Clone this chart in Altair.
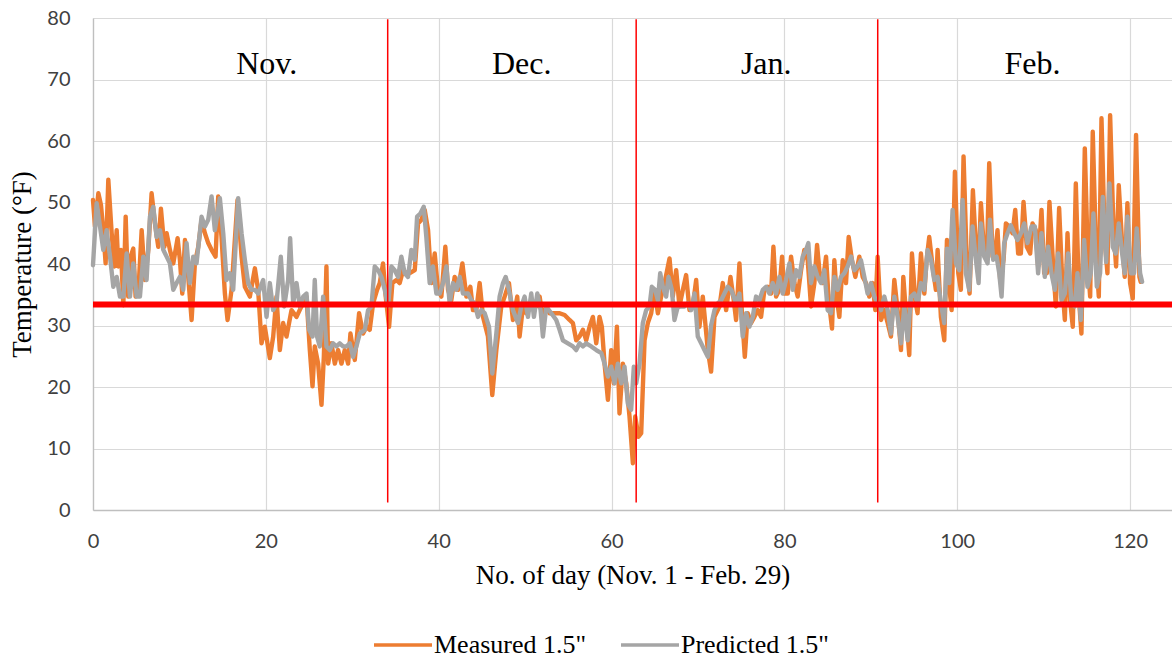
import altair as alt
import pandas as pd

# Measured soil temperature at 1.5" depth (day number, °F)
meas_day = [
    0.0, 0.23, 0.62, 0.92, 1.19, 1.46, 1.77, 2.16, 2.47, 2.74, 2.93, 3.24, 3.51, 3.78, 4.08, 4.35,
    4.66, 4.93, 5.24, 5.63, 6.01, 6.40, 6.78, 7.17, 7.55, 7.86, 8.25, 8.52, 8.90, 9.29, 9.79, 10.06,
    10.33, 10.64, 11.02, 11.41, 11.79, 12.18, 12.56, 12.95, 13.33, 13.72, 14.18, 14.49, 14.87, 15.26,
    15.57, 16.03, 16.72, 17.19, 17.57, 18.15, 18.73, 19.11, 19.50, 19.88, 20.46, 20.85, 21.23, 21.62,
    22.00, 22.39, 22.97, 23.55, 24.12,
    24.70, 25.09, 25.40, 25.66, 26.05, 26.44, 26.71, 27.01, 27.21, 27.59, 27.98, 28.36, 28.75, 29.13,
    29.52, 29.79, 30.29, 30.79, 31.25, 31.64, 32.02, 32.41, 32.87, 33.18, 33.56, 33.87, 34.26, 34.64,
    35.11, 35.49, 35.88, 36.26, 36.65, 37.23, 37.61, 38.00, 38.38, 38.77, 39.15, 39.54, 39.92, 40.31,
    40.77, 41.08, 41.46, 41.85, 42.24, 42.74, 43.20, 43.66, 43.97, 44.35, 44.74, 45.13, 45.70, 46.20,
    46.67, 47.24, 47.63, 48.13, 48.59,
    49.09, 49.36, 49.75, 50.13, 50.52, 50.91, 51.29, 51.68, 52.06, 52.45, 52.83, 53.41, 53.99, 54.57,
    55.14, 55.53, 55.91, 56.30, 56.69, 57.07, 57.46, 57.84, 58.23, 58.61, 58.88, 59.19, 59.58, 59.96,
    60.27, 60.62, 60.92, 61.31, 61.70, 62.08, 62.47, 62.74, 63.12, 63.43, 63.82, 64.20, 64.59, 64.97,
    65.36, 65.74, 66.13, 66.71, 67.09, 67.48, 67.86, 68.25, 68.63, 69.02, 69.40, 69.79, 70.17, 70.56,
    71.14, 71.52, 71.91, 72.49, 72.87, 73.26, 73.76, 74.14,
    74.41, 74.80, 75.11, 75.42, 75.76, 76.15, 76.53, 76.92, 77.30, 77.69, 78.07, 78.46, 78.73, 79.04,
    79.42, 79.73, 80.00, 80.39, 80.77, 81.16, 81.54, 81.93, 82.31, 82.70, 83.08, 83.47, 83.78, 84.12,
    84.43, 84.82, 85.13, 85.51, 85.78, 86.09, 86.36, 86.75, 87.13, 87.44, 87.82, 88.21, 88.67, 89.06,
    89.44, 89.83, 90.21, 90.52, 90.79, 91.18, 91.56, 91.95, 92.33, 92.72, 93.10, 93.49, 93.76, 94.15,
    94.45, 94.76, 95.15, 95.41, 95.80, 96.19, 96.45, 96.76, 97.15, 97.53, 97.73, 98.11, 98.50,
    98.81, 99.08, 99.35, 99.73, 100.12, 100.42, 100.73, 101.12, 101.43, 101.81, 102.16, 102.43, 102.74,
    103.12, 103.43, 103.70, 104.09, 104.35, 104.66, 104.97, 105.36, 105.63, 106.01, 106.40, 106.71,
    107.05, 107.36, 107.67, 108.05, 108.44, 108.71, 109.09, 109.36, 109.75, 110.06, 110.37, 110.67,
    111.06, 111.41, 111.79, 112.18, 112.45, 112.76, 113.06, 113.37, 113.72, 114.10, 114.37, 114.76,
    115.14, 115.38, 115.68, 116.07, 116.38, 116.69, 117.07, 117.38, 117.69, 118.07, 118.38, 118.69,
    119.08, 119.38, 119.69, 120.00, 120.31, 120.69, 121.08, 121.23,
]
meas_temp = [
    50.4, 46.1, 51.5, 49.6, 45.5, 40.1, 53.7, 45.0, 39.6, 45.5, 39.6, 42.3, 33.3, 47.7, 34.7, 41.2,
    42.5, 34.7, 35.2, 45.5, 37.4, 42.3, 51.5, 46.6, 42.8, 49.0, 42.8, 45.0, 42.3, 40.1, 44.2, 40.6,
    35.2, 43.9, 37.9, 30.9, 40.1, 42.8, 47.2, 45.0, 43.4, 42.3, 41.2, 51.0, 44.4, 35.2,
    30.9, 35.8, 50.4, 41.2, 36.3, 34.7, 39.3, 35.8, 27.1, 29.8, 24.7, 28.2, 34.7, 26.0,
    30.4, 28.2, 32.5, 31.4, 33.1,
    34.7, 26.0, 20.1, 26.6, 23.8, 17.1, 24.9, 39.6, 23.8, 27.1, 23.8, 26.0, 23.8, 26.0,
    23.8, 28.7, 24.4, 32.0, 28.7, 29.8, 29.3, 33.6, 35.8, 36.9, 40.1, 34.7, 29.8, 36.9,
    37.4, 36.9, 39.0, 38.5, 38.5, 39.0, 46.6, 47.2, 48.8, 45.5, 36.9, 41.7, 35.8, 34.7,
    42.8, 35.8, 34.1, 37.9, 35.8, 40.1, 34.7, 36.3, 32.5, 32.5, 36.9, 31.4, 28.2, 18.7,
    26.0, 33.1, 34.7, 36.9, 30.9,
    34.7, 28.2, 33.1, 32.0, 33.6, 33.6, 33.1, 34.7, 31.0, 33.1, 32.0, 32.0, 32.0, 31.7,
    30.9, 30.4, 27.6, 28.2, 29.3, 27.6, 29.8, 31.4, 27.1, 31.4, 29.8, 23.8, 17.9, 26.0,
    20.6, 29.8, 15.7, 23.8, 20.6, 15.2, 7.6, 15.2, 11.9, 12.5, 27.6, 30.4, 32.0, 35.8,
    32.0, 34.7, 36.9, 40.9, 34.7, 39.0, 33.1, 35.8, 38.2, 32.5, 33.1, 37.4, 29.8, 34.7,
    26.0, 22.5, 31.4, 33.1, 36.9, 32.5, 37.9, 34.1,
    30.9, 40.1, 31.4, 24.9, 32.0, 30.4, 31.4, 32.5, 31.4, 35.8, 36.3, 35.2, 42.8, 34.7,
    35.8, 41.2, 35.2, 35.2, 41.2, 36.9, 34.7, 39.0, 42.3, 40.6, 33.1, 36.9, 43.1, 37.9,
    36.9, 41.2, 34.1, 29.5, 40.6, 34.1, 31.4, 40.6, 36.9, 44.4, 40.6, 37.9, 41.2, 37.9,
    36.9, 34.7, 36.9, 32.5, 41.2, 30.9, 32.5, 30.4, 28.2, 37.4, 32.5, 26.0, 37.9, 30.4,
    25.2, 41.7, 34.1, 32.0, 41.7, 35.2, 40.6, 44.4, 39.6, 35.8, 42.3, 31.4, 27.6,
    43.9, 36.3, 32.5, 55.0, 38.5, 35.8, 57.5, 39.6, 35.2, 52.0, 42.8, 38.5, 49.9,
    41.7, 40.7, 56.4, 41.2, 41.2, 45.5, 37.4, 40.7, 46.6, 46.1, 45.0, 48.8,
    41.7, 41.7, 50.1, 42.8, 41.7, 46.6, 45.5, 39.6, 48.8, 38.5, 38.5, 50.1,
    40.7, 33.1, 49.1, 36.3, 30.9, 45.0, 34.1, 29.8, 53.1, 34.1, 28.7, 58.8,
    39.6, 34.7, 61.5, 41.7, 34.7, 63.7, 43.9, 38.5, 64.2, 46.1, 39.6, 52.8,
    43.4, 37.9, 49.9, 36.9, 34.4, 61.0, 37.9, 37.1,
]

# Predicted soil temperature at 1.5" depth (day number, °F)
pred_day = [
    0.0, 0.42, 0.81, 1.19, 1.58, 1.97, 2.35, 2.74, 3.12, 3.51, 3.89, 4.28, 4.66, 5.05, 5.43, 5.82,
    6.20, 6.59, 6.97, 7.36, 7.75, 8.13, 8.52, 8.90, 9.29, 9.67, 10.06, 10.44, 10.83, 11.21, 11.60,
    11.98, 12.56, 12.95, 13.33, 13.72, 14.10, 14.68, 15.07, 15.45, 15.84, 16.22, 16.80, 17.19, 17.57,
    17.96, 18.34, 18.73, 19.11, 19.69, 20.08, 20.46, 20.85, 21.23, 21.73, 22.12, 22.58, 22.81, 23.16,
    23.55, 23.93, 24.32,
    24.70, 25.01, 25.40, 25.66, 25.93, 26.24, 26.63, 27.01, 27.40, 27.78, 28.17, 28.55, 28.94, 29.33,
    29.71, 30.10, 30.48, 30.87, 31.45, 31.83, 32.22, 32.60, 32.99, 33.37, 33.76, 34.14, 34.53, 34.91,
    35.30, 35.68, 36.07, 36.45, 36.84, 37.23, 37.50, 37.88, 38.27, 38.57, 38.96, 39.34, 39.73, 40.12,
    40.50, 40.89, 41.27, 41.66, 42.04, 42.43, 42.81, 43.39, 43.78, 44.16, 44.55, 44.93, 45.32, 45.82,
    46.20, 46.67, 47.05, 47.44, 47.75, 48.13, 48.59,
    49.17, 49.56, 49.94, 50.33, 50.71, 51.02, 51.41, 51.79, 52.06, 52.45, 53.03, 53.60, 53.99, 54.37,
    54.95, 55.53, 55.91, 56.30, 56.69, 57.07, 57.65, 58.23, 58.82, 59.19, 59.58, 59.96, 60.35, 60.73,
    61.12, 61.50, 61.89, 62.27, 62.58, 62.85, 63.24, 63.62, 64.01, 64.39, 64.66, 65.05, 65.36, 65.63,
    65.93, 66.32, 66.59, 66.98, 67.28, 67.67, 68.05, 68.44, 68.82, 69.21, 69.60, 69.98, 70.37, 70.75,
    71.14, 71.52, 71.91, 72.29, 72.68, 73.06, 73.45, 73.84,
    74.41, 74.80, 75.18, 75.57, 75.95, 76.34, 76.72, 77.11, 77.50, 77.88, 78.27, 78.65, 79.04, 79.42,
    79.81, 80.19, 80.58, 80.96, 81.35, 81.73, 82.12, 82.51, 82.77, 83.08, 83.47, 83.85, 84.24, 84.62,
    85.01, 85.39, 85.78, 86.17, 86.55, 86.94, 87.32, 87.71, 88.09, 88.48, 88.86, 89.25, 89.63, 90.02,
    90.40, 90.79, 91.18, 91.56, 91.95, 92.33, 92.72, 93.10, 93.49, 93.88, 94.26, 94.65, 95.03, 95.41,
    95.80, 96.19, 96.57, 96.96, 97.34, 97.73, 98.11, 98.50,
    98.81, 99.08, 99.46, 99.85, 100.23, 100.62, 101.00, 101.39, 101.77, 102.16, 102.47, 102.74, 103.12,
    103.51, 103.78, 104.16, 104.55, 104.86, 105.13, 105.43, 105.82, 106.20, 106.59, 106.97, 107.36,
    107.75, 108.13, 108.59, 108.98, 109.36, 109.75, 110.13, 110.52, 110.90, 111.29, 111.68, 112.06,
    112.45, 112.83, 113.22, 113.60, 113.91, 114.30, 114.68, 115.07, 115.45, 115.76, 116.15, 116.53,
    116.84, 117.23, 117.61, 118.00, 118.34, 118.69, 119.08, 119.38, 119.69, 120.08, 120.46, 120.77,
    121.16, 121.39,
]
pred_temp = [
    39.8, 49.9, 46.1, 42.3, 45.5, 41.2, 36.3, 37.9, 34.7, 34.7, 41.7, 34.7, 40.1, 34.7, 34.7, 41.2,
    37.4, 47.7, 49.3, 44.4, 45.5, 42.3, 41.2, 40.1, 35.8, 36.9, 37.9, 35.8, 43.4, 36.9, 41.2,
    40.1, 47.7, 46.1, 47.2, 51.0, 45.5, 50.7, 45.0, 37.4, 38.5, 35.8, 50.7, 45.0, 40.7,
    36.9, 35.8, 35.8, 35.2, 37.4, 31.4, 36.9, 32.5, 33.6, 41.2, 33.1, 37.4, 44.2, 33.6,
    36.9, 33.1, 34.7,
    35.2, 29.3, 28.2, 37.4, 28.2, 26.6, 34.7, 26.6, 26.0, 27.1, 26.6, 27.1, 26.6, 26.6,
    27.1, 24.9, 26.6, 28.7, 29.3, 32.5, 33.1, 39.6, 39.0, 37.9, 35.8, 33.1, 39.6, 39.0,
    37.9, 41.2, 38.5, 37.9, 42.3, 40.7, 47.7, 48.2, 49.3, 44.4, 36.9, 39.6, 35.2, 35.2,
    36.9, 39.6, 33.6, 36.9, 35.8, 37.9, 35.2, 35.2, 34.1, 33.6, 31.4, 32.5, 32.0, 29.8,
    22.2, 28.7, 34.7, 36.9, 37.9, 35.8, 32.5,
    30.4, 33.1, 34.7, 31.4, 35.2, 31.4, 35.2, 32.5, 28.2, 33.1, 32.0, 30.9, 29.3, 27.6,
    27.1, 26.6, 26.0, 27.1, 26.6, 27.1, 26.6, 26.0, 25.5, 23.8, 21.7, 23.3, 20.6, 23.8,
    20.6, 23.3, 17.3, 16.3, 23.3, 20.6, 23.8, 30.4, 32.5, 33.1, 36.3, 35.8, 34.1, 38.5,
    36.3, 34.7, 37.9, 35.8, 30.9, 33.1, 33.1, 33.1, 33.6, 32.5, 35.2, 28.2, 27.1, 26.0,
    24.9, 30.0, 32.5, 33.6, 34.1, 35.2, 36.3, 35.8,
    33.6, 35.2, 28.2, 32.0, 29.8, 31.4, 34.7, 34.1, 35.8, 36.3, 35.2, 36.9, 35.2, 37.9,
    35.2, 37.4, 40.1, 35.8, 39.0, 37.9, 41.2, 42.3, 43.4, 36.9, 39.6, 37.9, 36.9, 39.0,
    32.5, 32.0, 37.9, 35.8, 37.9, 38.5, 39.6, 41.2, 39.0, 39.6, 40.6, 37.9, 35.2, 36.9,
    34.7, 33.6, 32.5, 34.7, 32.5, 28.7, 34.7, 31.4, 27.1, 33.1, 27.6, 34.7, 35.2, 33.6,
    36.9, 35.8, 42.3, 40.7, 37.4, 37.9, 33.6, 30.4,
    42.5, 36.9, 48.8, 40.1, 39.0, 50.4, 38.5, 35.8, 46.1, 40.7, 36.9, 46.6, 41.2,
    40.1, 47.2, 40.7, 41.2, 38.5, 34.7, 43.4, 45.0, 46.3, 45.0, 43.9, 45.0,
    46.6, 43.4, 46.1, 46.1, 38.5, 45.0, 37.9, 42.8, 38.5, 35.8, 41.7, 34.1,
    35.2, 41.7, 33.6, 33.1, 38.5, 30.9, 43.9, 36.3, 38.5, 48.2, 36.3, 38.5,
    50.9, 40.3, 53.1, 42.8, 41.7, 46.6, 41.7, 38.5, 47.7, 38.5, 38.5, 45.8,
    38.5, 37.1,
]

series_names = ['Measured 1.5"', 'Predicted 1.5"']
series_colors = ["#ED7D31", "#A5A5A5"]

month_names = ["Nov.", "Dec.", "Jan.", "Feb."]
month_label_day = [20.1, 49.6, 77.9, 108.7]
month_label_temp = [70.9, 70.9, 70.9, 70.9]
month_boundary_day = [34.1, 62.85, 90.8]
reference_temp = 33.4

X_MAX = 124.85
Y_MAX = 80

SERIF = "Liberation Serif"
SANS = "Lato"

temps = pd.concat(
    [
        pd.DataFrame({"day": meas_day, "temp": meas_temp, "series": series_names[0]}),
        pd.DataFrame({"day": pred_day, "temp": pred_temp, "series": series_names[1]}),
    ],
    ignore_index=True,
)
months = pd.DataFrame({"month": month_names, "day": month_label_day, "temp": month_label_temp})
boundaries = pd.DataFrame({"day": month_boundary_day, "low": 1.2, "high": 79.8})
reference = pd.DataFrame({"start": [0.0], "end": [X_MAX], "temp": [reference_temp]})

x_scale = alt.Scale(domain=[0, X_MAX], nice=False, zero=False)
y_scale = alt.Scale(domain=[0, Y_MAX], nice=False)

lines = alt.Chart(temps).mark_line(strokeWidth=4.4, strokeJoin="round", strokeCap="round").encode(
    x=alt.X(
        "day:Q",
        scale=x_scale,
        axis=alt.Axis(
            values=[0, 20, 40, 60, 80, 100, 120],
            title="No. of day (Nov. 1 - Feb. 29)",
            titleY=73,
            titleBaseline="alphabetic",
            labelPadding=21,
        ),
    ),
    y=alt.Y(
        "temp:Q",
        scale=y_scale,
        axis=alt.Axis(
            values=[0, 10, 20, 30, 40, 50, 60, 70, 80],
            title="Temperature (°F)",
            titleX=-63,
            titleY=246,
            titleBaseline="alphabetic",
            labelPadding=23,
        ),
    ),
    color=alt.Color(
        "series:N",
        scale=alt.Scale(domain=series_names, range=series_colors),
        legend=alt.Legend(
            title=None,
            orient="none",
            direction="horizontal",
            legendX=279,
            legendY=596,
            symbolType="stroke",
            symbolSize=3364,
            symbolStrokeWidth=3.5,
            labelFont=SERIF,
            labelFontSize=26,
            labelColor="black",
            labelOffset=0,
            columnPadding=27,
            padding=0,
        ),
    ),
    order=alt.Order("day:Q"),
)

reference_line = alt.Chart(reference).mark_rule(color="#FF0000", strokeWidth=6).encode(
    x=alt.X("start:Q", scale=x_scale),
    x2="end:Q",
    y=alt.Y("temp:Q", scale=y_scale),
)

boundary_lines = alt.Chart(boundaries).mark_rule(color="#FF0000", strokeWidth=1.5).encode(
    x=alt.X("day:Q", scale=x_scale),
    y=alt.Y("low:Q", scale=y_scale),
    y2="high:Q",
)

month_labels = alt.Chart(months).mark_text(
    font=SERIF, fontSize=32, color="black", baseline="alphabetic", align="center"
).encode(
    x=alt.X("day:Q", scale=x_scale),
    y=alt.Y("temp:Q", scale=y_scale),
    text="month:N",
)

chart = (
    alt.layer(lines, reference_line, boundary_lines, month_labels)
    .properties(
        width=1079,
        height=492,
        padding={"left": 93, "top": 18, "right": 0, "bottom": 150},
        autosize=alt.AutoSizeParams(type="none"),
        background="white",
    )
    .configure_view(strokeWidth=0)
    .configure_axis(
        grid=True,
        gridColor="#D9D9D9",
        gridWidth=1.2,
        domainColor="#BFBFBF",
        domainWidth=1.3,
        ticks=False,
        tickSize=0,
        labelFont=SANS,
        labelFontSize=20,
        labelColor="#404040",
        labelFlush=False,
        titleFont=SERIF,
        titleFontSize=27,
        titleFontWeight="normal",
        titleColor="black",
    )
)

chart.save("out.html", embed_options={"renderer": "svg", "actions": False})
